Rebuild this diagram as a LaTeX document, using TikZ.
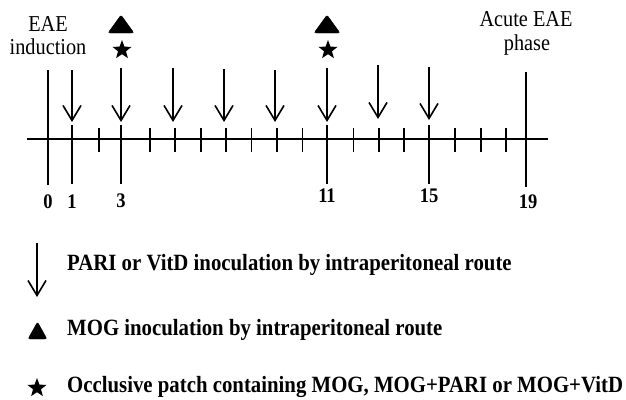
\documentclass[tikz,border=0pt]{standalone}
\usepackage{fontspec}
\setmainfont{Liberation Serif}
\usetikzlibrary{arrows.meta,shapes.geometric}
\newcommand{\vstretch}[1]{\scalebox{1}[1.12]{#1}}
\begin{document}
\begin{tikzpicture}[x=1pt,y=-1pt,
  axisline/.style={line width=1.7pt},
  tickline/.style={line width=1.7pt},
  arr/.style={line width=1.6pt,-{Straight Barb[length=15pt,width=18pt,line width=1.6pt]}},
  headlbl/.style={anchor=base,inner sep=0pt,font=\fontsize{20.3}{24}\selectfont},
  numlbl/.style={anchor=base,inner sep=0pt,font=\bfseries\fontsize{18.5}{22}\selectfont},
  leglbl/.style={anchor=base west,inner sep=0pt,font=\bfseries\fontsize{20.8}{24}\selectfont},
  starsym/.style={star,star points=5,star point ratio=2.4,fill=black,draw=none,minimum size=20pt,inner sep=0pt},
  trisym/.style={fill=black,rounded corners=2pt}
]
\useasboundingbox (0,0) rectangle (626,399);
\clip (0,0) rectangle (626,399);

% axis
\coordinate (axL) at (27,139);
\coordinate (axR) at (548,139);
\draw[axisline] (axL) -- (axR);

% small ticks
\foreach \d in {2,4,5,6,7,8,9,10,12,13,14,16,17,18} {
  \coordinate (st\d) at ({48+25.45*\d},128);
  \coordinate (sb\d) at ({48+25.45*\d},152);
  \draw[tickline] (st\d) -- (sb\d);
}

% long lines
\coordinate (L0t) at (48,70);  \coordinate (L0b) at (48,185);
\draw[tickline] (L0t) -- (L0b);
\coordinate (L19t) at (526,72); \coordinate (L19b) at (526,187);
\draw[tickline] (L19t) -- (L19b);
\foreach \d/\x in {1/72,3/121,11/327,15/429} {
  \coordinate (Lt\d) at (\x,125);
  \coordinate (Lb\d) at (\x,184);
  \draw[tickline] (Lt\d) -- (Lb\d);
}

% arrows
\foreach \x/\yt/\yb [count=\i] in {72/70/122,121/68/122,173/68/122,224/69/122,275/70/122,327/68/122,378/65/119,429/67/120} {
  \coordinate (at\i) at (\x,\yt);
  \coordinate (ab\i) at (\x,\yb);
  \draw[arr] (at\i) -- (ab\i);
}

% triangles and stars
\foreach \x [count=\i] in {121,327} {
  \draw[trisym] (\x-13,33) -- (\x,15) -- (\x+13,33) -- cycle;
  \node[starsym] (star\i) at (\x+1,50) {};
}

% header labels
\node[headlbl] (eae) at (48,31) {\vstretch{EAE}};
\node[headlbl] (ind) at (48,54) {\vstretch{induction}};
\node[headlbl] (acute) at (526,26) {\vstretch{Acute EAE}};
\node[headlbl] (phase) at (527,50) {\vstretch{phase}};

% numbers
\node[numlbl] (n0) at (48,208) {\vstretch{0}};
\node[numlbl] (n1) at (72,208) {\vstretch{1}};
\node[numlbl] (n3) at (121,207) {\vstretch{3}};
\node[numlbl] (n11) at (327,202) {\vstretch{11}};
\node[numlbl] (n15) at (429,202) {\vstretch{15}};
\node[numlbl] (n19) at (528,208) {\vstretch{19}};

% legend
\coordinate (lat) at (37,243);
\coordinate (lab) at (37,297);
\draw[arr] (lat) -- (lab);
\node[leglbl] (leg1) at (67,270) {\vstretch{PARI or VitD inoculation by intraperitoneal route}};
\draw[trisym] (28,339) -- (37.5,322) -- (47,339) -- cycle;
\node[leglbl] (leg2) at (67,335) {\vstretch{MOG inoculation by intraperitoneal route}};
\node[starsym] (lstar) at (37,388) {};
\node[leglbl] (leg3) at (67,392) {\vstretch{Occlusive patch containing MOG, MOG+PARI or MOG+VitD}};
\end{tikzpicture}
\end{document}
